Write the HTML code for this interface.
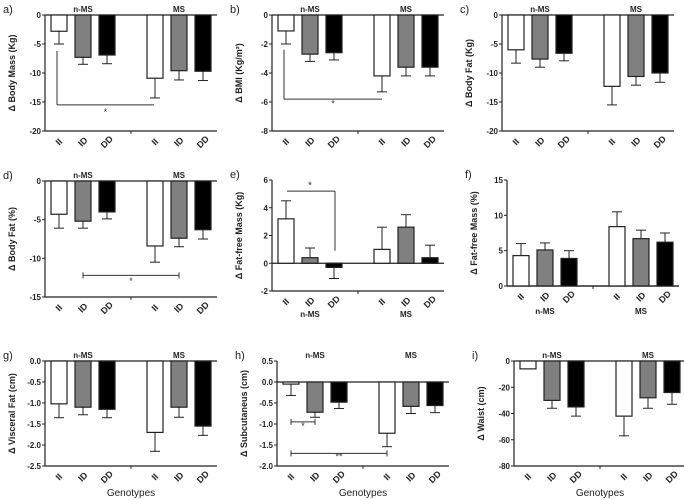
<!DOCTYPE html>
<html><head><meta charset="utf-8"><style>
body{margin:0;background:#fff;}
svg{display:block;font-family:"Liberation Sans",Arial,sans-serif;}
</style></head><body>
<svg id="fig" width="684" height="500" viewBox="0 0 684 500"></svg>
<script>
const genotypes = ["II","ID","DD","II","ID","DD"];
const groups = ["n-MS","MS"];
const fills = ["#fff","#808080","#000","#fff","#808080","#000"];
const valsA = [-2.8,-7.3,-6.9,-10.9,-9.6,-9.7];
const errA = [2.2,1.2,1.5,3.4,1.6,1.6];
const valsB = [-1.1,-2.7,-2.6,-4.2,-3.6,-3.6];
const errB = [0.9,0.5,0.5,1.1,0.6,0.6];
const valsC = [-6.0,-7.6,-6.6,-12.3,-10.6,-10.0];
const errC = [2.3,1.4,1.3,3.2,1.5,1.6];
const valsD = [-4.3,-5.2,-4.0,-8.4,-7.4,-6.3];
const errD = [1.8,0.9,0.9,2.1,1.1,1.2];
const valsE = [3.2,0.4,-0.3,1.0,2.6,0.4];
const errE = [1.3,0.7,0.8,1.6,0.9,0.9];
const valsF = [4.3,5.1,3.9,8.4,6.7,6.2];
const errF = [1.7,1.0,1.1,2.1,1.2,1.3];
const valsG = [-1.02,-1.1,-1.15,-1.7,-1.1,-1.55];
const errG = [0.33,0.18,0.2,0.45,0.24,0.22];
const valsH = [-0.05,-0.72,-0.48,-1.22,-0.58,-0.56];
const errH = [0.27,0.12,0.15,0.32,0.17,0.17];
const valsI = [-6,-30,-35,-42,-28,-24];
const errI = [0,6,7,15,8,9];
const ticksA = [0,-5,-10,-15,-20];
const ticksB = [0,-2,-4,-6,-8];
const ticksD = [0,-5,-10,-15];
const ticksE = [6,4,2,0,-2];
const ticksF = [15,10,5,0];
const ticksG = [0,-0.5,-1,-1.5,-2,-2.5];
const ticksH = [0.5,0,-0.5,-1,-1.5,-2];
const ticksI = [0,-20,-40,-60,-80];

const NS="http://www.w3.org/2000/svg";
const svg=document.getElementById('fig');
function el(tag,attrs,parent,text){const e=document.createElementNS(NS,tag);for(const k in attrs)e.setAttribute(k,attrs[k]);if(text!==undefined)e.textContent=text;(parent||svg).appendChild(e);return e;}
const offs=[14,38,62,110,134,158];

function panel(p){
  const g=el('g',{});
  
  
  const y=v=>p.yTop+(p.max-v)/(p.max-p.min)*(p.yBot-p.yTop);
  const L=172;
  const lt=el('text',{x:p.ax-42,y:p.yTop-2,'font-size':11,fill:'#222'},g,p.id+')');
  
  
  el('line',{x1:p.ax,y1:p.yTop,x2:p.ax,y2:p.yBot,stroke:'#222','stroke-width':1.2},g);
  p.ticks.forEach(t=>{
    el('line',{x1:p.ax-3,y1:y(t),x2:p.ax,y2:y(t),stroke:'#222'},g);
    const tx=el('text',{x:p.ax-4,y:y(t)+3,'font-size':8,'font-weight':'bold','text-anchor':'end',fill:'#222'},g,p.fmt?p.fmt(t):String(t));
    
    
  });
  const cy=(p.yTop+p.yBot)/2;
  const yt=el('text',{x:p.ax-30,y:cy,'font-size':9,'font-weight':'bold','text-anchor':'middle',fill:'#222',transform:`rotate(-90 ${p.ax-30} ${cy})`},g,p.title);
  
  
  el('line',{x1:p.ax,y1:p.yBot,x2:p.ax+L,y2:p.yBot,stroke:'#222','stroke-width':1.2},g);
  el('line',{x1:p.ax+86,y1:p.yBot,x2:p.ax+86,y2:p.yBot+3,stroke:'#222'},g);
  const y0=y(0);
  el('line',{x1:p.ax,y1:y0,x2:p.ax+L,y2:y0,stroke:'#222','stroke-width':1.2},g);
  p.vals.forEach((v,i)=>{
    const cx=p.ax+offs[i];const w=16;
    const top=Math.min(y(v),y0),h=Math.abs(y(v)-y0);
    const r=el('rect',{x:cx-w/2,y:top,width:w,height:Math.max(h,0.5),fill:fills[i],stroke:'#222','stroke-width':1.2},g);
    
    
    const e=p.errs[i];
    if(e>0){
      const ye=y(v+(v>=0?e:-e));
      el('line',{x1:cx,y1:y(v),x2:cx,y2:ye,stroke:'#222'},g);
      el('line',{x1:cx-5,y1:ye,x2:cx+5,y2:ye,stroke:'#222'},g);
    }
    const lx=cx+2,ly=p.yBot+13;
    const tl=el('text',{x:lx,y:ly,'font-size':9,'font-weight':'bold','text-anchor':'middle',fill:'#222',transform:`rotate(-45 ${lx} ${ly})`},g,genotypes[i]);
    
    
  });
  const gy=p.groupBelow?p.yBot+p.groupBelow:p.yTop-3;
  [0,1].forEach(k=>{
    const gt=el('text',{x:p.ax+offs[1+3*k],y:gy,'font-size':8,'font-weight':'bold','text-anchor':'middle',fill:'#222'},g,groups[k]);
    
    
  });
  if(p.genotypes){
    const gt=el('text',{x:p.ax+86,y:496,'font-size':10,'text-anchor':'middle',fill:'#222'},g,'Genotypes');
    
    
  }
  if(p.extra)p.extra(g,y);
}
function bracket(g,x1,x2,yy,label,ly,caps){
  el('line',{x1:x1,y1:yy,x2:x2,y2:yy,stroke:'#333'},g);
  if(caps){el('line',{x1:x1,y1:yy-3,x2:x1,y2:yy+3,stroke:'#333'},g);el('line',{x1:x2,y1:yy-3,x2:x2,y2:yy+3,stroke:'#333'},g);}
  const t=el('text',{x:(x1+x2)/2,y:ly,'font-size':9,'text-anchor':'middle',fill:'#333'},g,label);
  
  
}
const f1=t=>t.toFixed(1);
panel({id:'a',ax:45,yTop:15,yBot:131,max:0,min:-20,ticks:ticksA,vals:valsA,errs:errA,title:'\u0394 Body Mass (Kg)',
  extra:(g,y)=>{el('line',{x1:57,y1:y(-6.2),x2:57,y2:y(-15.5),stroke:'#333'},g);bracket(g,57,154,y(-15.5),'*',y(-17.2));}});
panel({id:'b',ax:272,yTop:15,yBot:131,max:0,min:-8,ticks:ticksB,vals:valsB,errs:errB,title:'\u0394 BMI (Kg/m\u00b2)',
  extra:(g,y)=>{el('line',{x1:284,y1:y(-2.4),x2:284,y2:y(-5.8),stroke:'#333'},g);bracket(g,284,382,y(-5.8),'*',y(-6.3));}});
panel({id:'c',ax:502,yTop:15,yBot:131,max:0,min:-20,ticks:ticksA,vals:valsC,errs:errC,title:'\u0394 Body Fat (Kg)'});
panel({id:'d',ax:45,yTop:181,yBot:297,max:0,min:-15,ticks:ticksD,vals:valsD,errs:errD,title:'\u0394 Body Fat (%)',
  extra:(g,y)=>{bracket(g,45+38,45+134,y(-12.2),'*',y(-13.3),true);}});
panel({id:'e',ax:272,yTop:180,yBot:291,max:6,min:-2,ticks:ticksE,vals:valsE,errs:errE,title:'\u0394 Fat-free Mass (Kg)',groupBelow:26,
  extra:(g,y)=>{el('line',{x1:287,y1:y(5.2),x2:335,y2:y(5.2),stroke:'#333'},g);el('line',{x1:335,y1:y(5.2),x2:335,y2:y(0.9),stroke:'#333'},g);
    const t=el('text',{x:310,y:y(5.4),'font-size':10,'text-anchor':'middle',fill:'#333'},g,'*');}});
panel({id:'f',ax:507,yTop:180,yBot:286,max:15,min:0,ticks:ticksF,vals:valsF,errs:errF,title:'\u0394 Fat-free Mass (%)',groupBelow:28});
panel({id:'g',ax:45,yTop:361,yBot:466,max:0,min:-2.5,ticks:ticksG,fmt:f1,vals:valsG,errs:errG,title:'\u0394 Visceral Fat (cm)',genotypes:true});
panel({id:'h',ax:277,yTop:361,yBot:466,max:0.5,min:-2,ticks:ticksH,fmt:f1,vals:valsH,errs:errH,title:'\u0394 Subcutaneus (cm)',genotypes:true,
  extra:(g,y)=>{bracket(g,291,315,y(-0.95),'*',y(-1.12),true);bracket(g,291,387,y(-1.7),'**',y(-1.85),true);}});
panel({id:'i',ax:514,yTop:361,yBot:466,max:0,min:-80,ticks:ticksI,vals:valsI,errs:errI,title:'\u0394 Waist (cm)',genotypes:true});
</script>
</body></html>
